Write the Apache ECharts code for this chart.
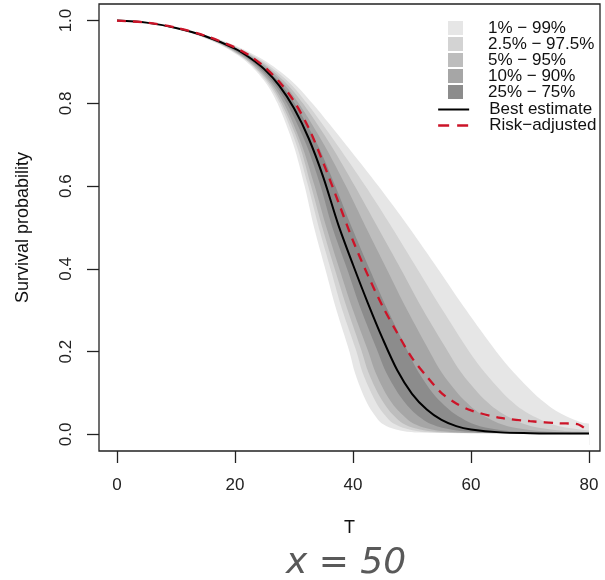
<!DOCTYPE html>
<html><head><meta charset="utf-8">
<script src="https://cdn.jsdelivr.net/npm/echarts@6/dist/echarts.min.js"></script>
<style>html,body{margin:0;padding:0;background:#fff}#c{width:605px;height:580px}</style>
</head><body><div id="c"></div>
<script>
// ---- data ----
const xTicks = [0, 20, 40, 60, 80];
const yTicks = [0, 0.2, 0.4, 0.6, 0.8, 1.0];

const tGrid = [0, 5, 10, 15, 20, 22.5, 25, 27.5, 30, 32.5, 35, 37.5, 40, 42.5, 45, 47.5, 50, 52.5, 55, 57.5, 60, 65, 70, 75, 80];
const bestEstimate = [1.000, 0.995, 0.982, 0.962, 0.932, 0.910, 0.882, 0.843, 0.788, 0.715, 0.620, 0.507, 0.410, 0.318, 0.232, 0.155, 0.098, 0.060, 0.035, 0.020, 0.012, 0.005, 0.003, 0.002, 0.002];

const riskT = [0, 5, 10, 15, 20, 22.5, 25, 27.5, 30, 32.5, 35, 37.5, 40, 42.5, 45, 47.5, 50, 52.5, 55, 57.5, 60, 65, 70, 75, 78, 80];
const riskAdjusted = [1.000, 0.995, 0.983, 0.963, 0.935, 0.915, 0.888, 0.852, 0.805, 0.740, 0.655, 0.562, 0.468, 0.385, 0.310, 0.245, 0.185, 0.140, 0.100, 0.075, 0.058, 0.040, 0.032, 0.027, 0.025, 0.006];

// survival levels and the time T at which each quantile curve reaches that level
const sLevels = [1, 0.99, 0.97, 0.94, 0.9, 0.85, 0.8, 0.7, 0.6, 0.5, 0.4, 0.3, 0.2, 0.15, 0.1, 0.07, 0.05, 0.03, 0.02, 0.01, 0.005];
const tQ01  = [0, 6.6, 12.4, 17.7, 22.0, 25.2, 27.2, 29.9, 31.8, 33.4, 35.3, 37.2, 39.4, 40.3, 41.6, 42.6, 43.5, 44.6, 45.7, 47.8, 50.5];
const tQ025 = [0, 6.7, 12.5, 17.9, 22.3, 25.5, 27.6, 30.4, 32.4, 34.2, 36.2, 38.2, 40.6, 41.6, 43.1, 44.2, 45.2, 46.5, 47.8, 50.1, 53.1];
const tQ05  = [0, 6.7, 12.6, 18.0, 22.4, 25.8, 27.9, 30.9, 32.9, 34.8, 36.9, 39.1, 41.5, 42.6, 44.2, 45.5, 46.6, 48.1, 49.4, 52.0, 55.1];
const tQ10  = [0, 6.7, 12.7, 18.2, 22.7, 26.1, 28.3, 31.3, 33.5, 35.5, 37.7, 40.0, 42.6, 43.8, 45.5, 46.9, 48.2, 49.8, 51.3, 54.0, 57.5];
const tQ25  = [0, 6.8, 12.8, 18.4, 23.0, 26.5, 28.8, 32.1, 34.5, 36.5, 39.0, 41.4, 44.2, 45.6, 47.6, 49.2, 50.6, 52.5, 54.2, 57.3, 61.1];
const tQ75  = [0, 7.0, 13.1, 18.9, 23.8, 27.6, 30.1, 34.0, 37.0, 39.8, 42.8, 45.9, 49.3, 51.1, 53.5, 55.5, 57.2, 59.6, 61.5, 65.3, 69.9];
const tQ90  = [0, 7.0, 13.3, 19.2, 24.2, 28.1, 30.8, 35.1, 38.8, 42.2, 45.7, 49.2, 53.0, 55.0, 57.7, 59.8, 61.6, 64.2, 66.2, 70.3, 75.3];
const tQ95  = [0, 7.1, 13.4, 19.4, 24.5, 28.6, 31.5, 36.2, 40.3, 44.2, 48.1, 51.9, 56.1, 58.3, 61.2, 63.4, 65.4, 68.1, 70.2, 74.6, 79.9];
const tQ975 = [0, 7.1, 13.6, 19.7, 24.9, 29.2, 32.2, 37.3, 42.1, 46.6, 50.9, 55.2, 59.7, 62.3, 65.4, 67.7, 69.8, 72.7, 74.9, 79.6];
const tQ99  = [0, 7.2, 13.8, 20.0, 25.4, 29.9, 33.1, 38.8, 44.3, 49.5, 54.4, 59.2, 64.3, 67.2, 70.6, 73.1, 75.3, 78.5];
// survival of each quantile curve at T = 80
const endQ01 = 0, endQ025 = 0, endQ05 = 0.0005, endQ10 = 0.001, endQ25 = 0.0015;
const endQ75 = 0.002, endQ90 = 0.003, endQ95 = 0.004, endQ975 = 0.0095, endQ99 = 0.026;

const bandLabels = ['1% \u2212 99%', '2.5% \u2212 97.5%', '5% \u2212 95%', '10% \u2212 90%', '25% \u2212 75%'];
const lineLabels = ['Best estimate', 'Risk\u2212adjusted'];

// ---- styles ----
const bandColors = ['#e6e6e6', '#d3d3d3', '#bdbdbd', '#a6a6a6', '#8c8c8c'];
const FONT = 'Liberation Sans, Arial, sans-serif';
const SMOOTH = 0.3;
const AREA_BASE = -0.0255;

function curve(ts, endVal) {
  const pts = ts.map((t, i) => [t, sLevels[i]]);
  pts.push([80, endVal]);
  return pts;
}
function band(name, pts, color) {
  return {
    type: 'line', name: name, data: pts, smooth: SMOOTH,
    symbol: 'none', showSymbol: false, silent: true, animation: false,
    color: color, itemStyle: { color: color, borderWidth: 0 },
    lineStyle: { width: 0, opacity: 0 },
    areaStyle: { color: color, opacity: 1, origin: AREA_BASE }
  };
}

// painter's order: upper curves (wide to narrow) then lower curves (narrow to wide)
const series = [
  band(bandLabels[0], curve(tQ99, endQ99), bandColors[0]),
  band(bandLabels[1], curve(tQ975, endQ975), bandColors[1]),
  band(bandLabels[2], curve(tQ95, endQ95), bandColors[2]),
  band(bandLabels[3], curve(tQ90, endQ90), bandColors[3]),
  band(bandLabels[4], curve(tQ75, endQ75), bandColors[4]),
  band('lower25', curve(tQ25, endQ25), bandColors[3]),
  band('lower10', curve(tQ10, endQ10), bandColors[2]),
  band('lower05', curve(tQ05, endQ05), bandColors[1]),
  band('lower025', curve(tQ025, endQ025), bandColors[0]),
  band('lower01', curve(tQ01, endQ01), '#ffffff'),
  {
    type: 'line', name: lineLabels[0], data: tGrid.map((t, i) => [t, bestEstimate[i]]),
    smooth: SMOOTH, symbol: 'none', silent: true, z: 5,
    color: '#000', lineStyle: { color: '#000', width: 2 }
  },
  {
    type: 'line', name: lineLabels[1], data: riskT.map((t, i) => [t, riskAdjusted[i]]),
    smooth: SMOOTH, symbol: 'none', silent: true, z: 6,
    color: '#cc1428', lineStyle: { color: '#cc1428', width: 2.3, type: [9, 7] }
  }
];

const chart = echarts.init(document.getElementById('c'), null, { renderer: 'canvas' });
chart.setOption({
  animation: false,
  backgroundColor: '#fff',
  grid: { left: 99, top: 4, width: 501, height: 447, show: true, borderColor: '#222', borderWidth: 1.3, backgroundColor: 'transparent' },
  xAxis: {
    type: 'value', min: -3.05, max: 81.86,
    name: 'T', nameLocation: 'middle', nameGap: 68,
    nameTextStyle: { fontFamily: FONT, fontSize: 18, color: '#111' },
    axisLine: { show: false, onZero: false },
    splitLine: { show: false },
    axisTick: { show: true, customValues: xTicks, length: 12, inside: false, lineStyle: { color: '#222', width: 1.3 } },
    axisLabel: { customValues: xTicks, margin: 26, fontFamily: FONT, fontSize: 17, color: '#222' }
  },
  yAxis: {
    type: 'value', min: -0.04, max: 1.04,
    name: 'Survival probability', nameLocation: 'middle', nameGap: 67,
    nameTextStyle: { fontFamily: FONT, fontSize: 18, color: '#111' },
    axisLine: { show: false, onZero: false },
    splitLine: { show: false },
    axisTick: { show: true, customValues: yTicks, length: 12, inside: false, lineStyle: { color: '#222', width: 1.3 } },
    axisLabel: { customValues: yTicks, rotate: 90, margin: 24, fontFamily: FONT, fontSize: 17, color: '#222',
      formatter: v => Number(v).toFixed(1) }
  },
  legend: [
    {
      data: bandLabels.map(n => ({ name: n, icon: 'rect' })),
      orient: 'vertical', left: 448, top: 19.5, padding: 0, itemGap: -1,
      itemWidth: 15, itemHeight: 14, selectedMode: false,
      textStyle: { fontFamily: FONT, fontSize: 17, color: '#111', lineHeight: 16, padding: [0, 0, 0, 20] }
    },
    {
      data: [
        { name: lineLabels[0], lineStyle: { type: 'solid', width: 2 } },
        { name: lineLabels[1], lineStyle: { type: [11, 8], width: 2.3 } }
      ],
      orient: 'vertical', left: 437, top: 101, padding: 0, itemGap: -1,
      itemWidth: 31, itemHeight: 14, selectedMode: false,
      itemStyle: { opacity: 0 },
      textStyle: { fontFamily: FONT, fontSize: 17, color: '#111', lineHeight: 16, padding: [0, 0, 0, 15] }
    }
  ],
  graphic: [{
    type: 'text', x: 346, y: 564,
    style: { text: 'x = 50', fontFamily: 'DejaVu Sans', fontStyle: 'italic', fontSize: 36, fill: '#595959',
      align: 'center', verticalAlign: 'middle' }
  }],
  series: series
});
</script>
</body></html>
